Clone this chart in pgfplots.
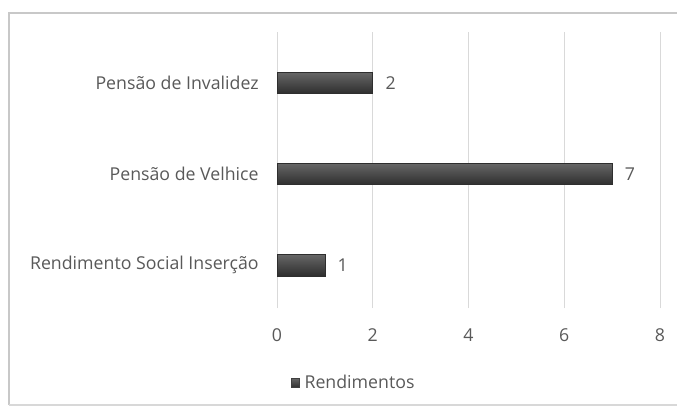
\documentclass[border=0pt]{standalone}
\usepackage{pgfplots}
\pgfplotsset{compat=1.18}
\usepackage{fontspec}
\setmainfont{Open Sans}
\definecolor{txt}{HTML}{595959}
\definecolor{gridc}{HTML}{D9D9D9}
\definecolor{framec}{HTML}{C8C8C8}
\begin{document}
\begin{tikzpicture}[x=0.75pt,y=0.75pt]
\path[use as bounding box] (0,0) rectangle (677,407);
\clip (0,0) rectangle (677,407);
\draw[framec, line width=1.5pt] (9,2) -- (9,394) -- (700,394);
\draw[framec!70, line width=0.8pt] (9,2) -- (700,2);
\begin{axis}[
  at={(207.75pt,74.25pt)}, anchor=south west,
  scale only axis, width=287.25pt, height=207pt,
  xbar, bar width=16pt, bar shift=0pt,
  xmin=0, xmax=8, ymin=-0.47, ymax=2.56,
  xtick={0,2,4,6,8}, ytick={0,1,2},
  yticklabels={Rendimento Social Inserção, Pensão de Velhice, Pensão de Invalidez},
  xmajorgrids, grid style={gridc, line width=0.75pt},
  axis line style={draw=none}, major tick style={draw=none},
  /pgf/number format/assume math mode=true,
  ticklabel style={font=\fontsize{13.3}{15}\selectfont, text=txt},
  xticklabel style={yshift=-12pt},
  yticklabel style={xshift=-6pt},
  nodes near coords,
  nodes near coords style={anchor=west, xshift=6pt, font=\fontsize{13.3}{15}\selectfont, text=txt},
  legend style={at={(0.026,-0.272)}, anchor=west, draw=none, fill=none, font=\fontsize{13.3}{15}\selectfont, text=txt},
  legend image code/.code={\fill[black!75] (0pt,-3.5pt) rectangle (6pt,3.5pt);},
  legend cell align=left,
  barsty/.style={draw=black!82, line width=0.5pt, top color=black!60, bottom color=black!82},
]
\addplot[barsty] coordinates {(1,0)};
\addlegendentry{\hspace{1.5pt}Rendimentos}
\addplot[barsty, forget plot] coordinates {(7,1)};
\addplot[barsty, forget plot] coordinates {(2,2)};
\end{axis}
\end{tikzpicture}
\end{document}
